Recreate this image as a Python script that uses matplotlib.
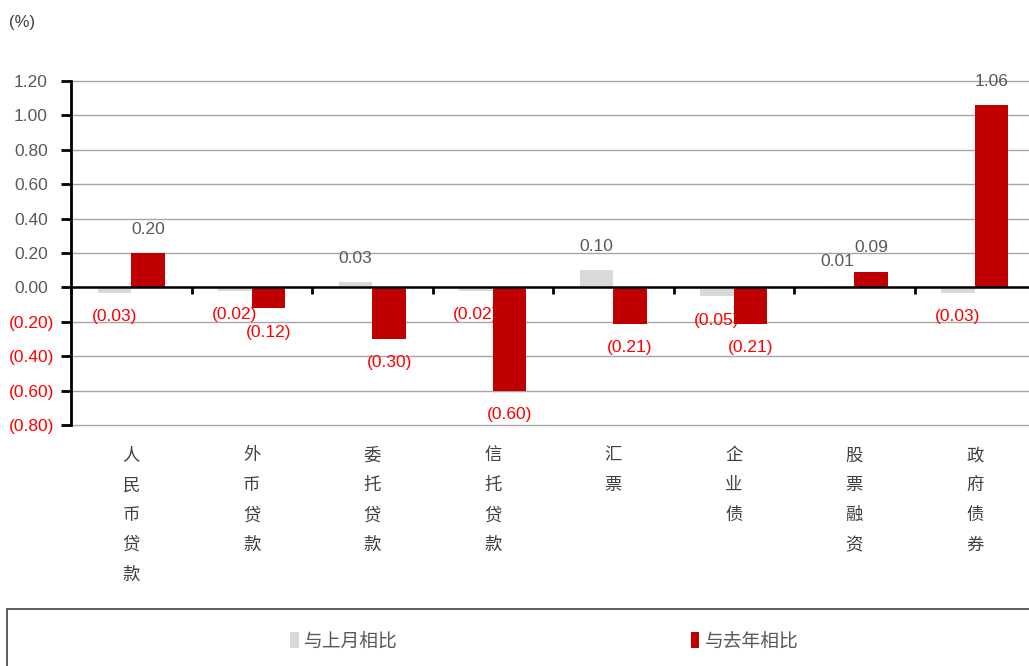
import numpy as np
import matplotlib
matplotlib.use("Agg")
import matplotlib.pyplot as plt
from matplotlib.patches import Rectangle
from matplotlib.transforms import blended_transform_factory, ScaledTranslation

plt.rcParams['font.family'] = ['Liberation Sans', 'Noto Sans CJK SC', 'DejaVu Sans']

# data
categories = ['人民币贷款', '外币贷款', '委托贷款', '信托贷款', '汇票', '企业债', '股票融资', '政府债券']
series_names = ['与上月相比', '与去年相比']
vs_last_month = [-0.03, -0.02, 0.03, -0.02, 0.10, -0.05, 0.01, -0.03]
vs_last_year = [0.20, -0.12, -0.30, -0.60, -0.21, -0.21, 0.09, 1.06]
yticks = [-0.8, -0.6, -0.4, -0.2, 0.0, 0.2, 0.4, 0.6, 0.8, 1.0, 1.2]

gray = '#d9d9d9'
red = '#c00000'
pos_col = '#595959'
neg_col = '#ff0000'


def fmt(v):
    if v < 0:
        return '({:.2f})'.format(-v)
    return '{:.2f}'.format(v)


fig = plt.figure(figsize=(10.29, 6.66), dpi=100)
ax = fig.add_axes([71 / 1029, 241 / 666, 964 / 1029, 344 / 666])

x = np.arange(len(categories))
w = 0.28
b1 = ax.bar(x - w / 2, vs_last_month, w, color=gray, zorder=3, label=series_names[0])
b2 = ax.bar(x + w / 2, vs_last_year, w, color=red, zorder=3, label=series_names[1])

# value labels
for bars, vals in [(b1, vs_last_month), (b2, vs_last_year)]:
    for r, v in zip(bars, vals):
        cx = r.get_x() + r.get_width() / 2
        off = 24 if v >= 0 else -24
        ax.annotate(fmt(v), (cx, v), xytext=(0, off), textcoords='offset pixels',
                    ha='center', va='center', fontsize=12.5,
                    color=pos_col if v >= 0 else neg_col, zorder=2)

ax.set_xlim(-0.5, len(categories) - 0.5)
ax.set_ylim(-0.8, 1.2)
ax.set_yticks(yticks)
ax.set_yticklabels([fmt(t) for t in yticks])
ax.tick_params(axis='y', length=7, width=2, pad=9.8, labelsize=12.5, direction='out')
# accounting style: brackets hang past the digits
shift = ScaledTranslation(7 / 100, 0, fig.dpi_scale_trans)
for t, v in zip(ax.get_yticklabels(), yticks):
    t.set_color(pos_col if v >= 0 else neg_col)
    if v < 0:
        t.set_transform(t.get_transform() + shift)
for t in yticks:
    ax.axhline(t, color='#a6a6a6', lw=1, zorder=0, clip_on=False)

for s in ['top', 'right']:
    ax.spines[s].set_visible(False)
ax.spines['left'].set_linewidth(2)
ax.spines['left'].set_zorder(4)
ax.spines['bottom'].set_position(('data', 0))
ax.spines['bottom'].set_linewidth(1.8)
ax.spines['bottom'].set_zorder(4)
ax.set_xticks([])
ax.set_xticks(np.arange(len(categories) + 1) - 0.5, minor=True)
ax.tick_params(axis='x', which='minor', length=5, width=2, direction='out')

# vertical category labels under the plot
tr = blended_transform_factory(ax.transData, ax.transAxes)
for i, c in enumerate(categories):
    ax.text(i, -0.062, '\n'.join(c), transform=tr, ha='center', va='top',
            fontsize=12.5, color='#404040', linespacing=1.85,
            family=['Noto Sans CJK SC', 'DejaVu Sans'])

fig.text(22 / 1029, 1 - 22 / 666, '(%)', ha='center', va='center', fontsize=12, color='#404040')

# legend box
fig.patches.append(Rectangle((7 / 1029, -0.05), 1.1, 57 / 666 + 0.05, transform=fig.transFigure,
                             fill=False, edgecolor='#404040', lw=1.2, clip_on=False))
fig.legend(handles=[b1, b2], labels=series_names, loc='center', bbox_to_anchor=(0.529, 25 / 666),
           ncol=2, frameon=False, handlelength=0.45, handleheight=1.0, handletextpad=0.3,
           columnspacing=15.6, prop={'family': ['Noto Sans CJK SC'], 'size': 13.5}, labelcolor='#595959')

fig.savefig('out.png', dpi=100)
